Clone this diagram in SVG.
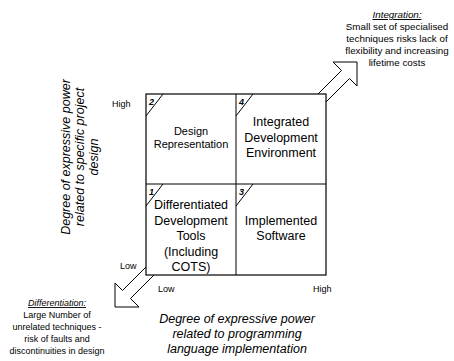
<svg xmlns="http://www.w3.org/2000/svg" width="454" height="361" viewBox="0 0 454 361">
<style>
text{font-family:"Liberation Sans",Arial,sans-serif;fill:#000}
.s{font-size:9px}
.t{font-size:9.8px}
.c{font-size:12.5px;text-anchor:middle}
.cs{font-size:11px;text-anchor:middle}
.ax{font-size:12.5px;font-style:italic;text-anchor:middle}
.n{font-size:9px;font-weight:bold;font-style:italic}
.m{text-anchor:middle}
.u{font-style:italic;text-decoration:underline}
.ln{stroke:#000;stroke-width:1;fill:none}
.ar{stroke:#000;stroke-width:1;fill:#fff}
</style>
<rect width="454" height="361" fill="#fff"/>
<g id="connectors">
<polyline class="ar" points="318,94 341.5,70.5 333,62 357,62 357,86 349.5,78.5 326,102"/>
<polyline class="ar" points="154,275 130.5,298.5 139,307 115,307 115,283 122.5,290.5 146,267"/>
</g>
<g id="grid">
<rect x="146" y="94" width="180" height="181" fill="none" stroke="#000" stroke-width="1.2"/>
<line class="ln" x1="236" y1="94" x2="236" y2="275" stroke-width="1.2"/>
<line class="ln" x1="146" y1="184" x2="326" y2="184" stroke-width="1.2"/>
</g>
<g id="cell2">
<line class="ln" x1="146" y1="116" x2="163" y2="94"/>
<text class="n" x="149" y="105">2</text>
<text class="cs" x="191" y="135">Design</text>
<text class="cs" x="191" y="148">Representation</text>
</g>
<g id="cell4">
<line class="ln" x1="236" y1="116" x2="253" y2="94"/>
<text class="n" x="239" y="105">4</text>
<text class="c" x="281" y="126">Integrated</text>
<text class="c" x="281" y="141.5">Development</text>
<text class="c" x="281" y="157">Environment</text>
</g>
<g id="cell1">
<line class="ln" x1="146" y1="206" x2="163" y2="184"/>
<text class="n" x="149" y="195">1</text>
<text class="c" x="191" y="209">Differentiated</text>
<text class="c" x="191" y="224.5">Development</text>
<text class="c" x="191" y="240">Tools</text>
<text class="c" x="191" y="255.5">(Including</text>
<text class="c" x="191" y="271">COTS)</text>
</g>
<g id="cell3">
<line class="ln" x1="236" y1="206" x2="253" y2="184"/>
<text class="n" x="239" y="195">3</text>
<text class="c" x="281" y="225">Implemented</text>
<text class="c" x="281" y="240">Software</text>
</g>
<g id="axis-labels">
<text class="s" x="112" y="107">High</text>
<text class="s" x="120" y="269">Low</text>
<text class="s" x="158" y="292">Low</text>
<text class="s" x="313" y="292">High</text>
<text class="ax" x="237" y="323">Degree of expressive power</text>
<text class="ax" x="237" y="338">related to programming</text>
<text class="ax" x="237" y="353">language implementation</text>
<g transform="translate(80,157) rotate(-90)">
<text class="ax" x="0" y="-10">Degree of expressive power</text>
<text class="ax" x="0" y="4">related to specific project</text>
<text class="ax" x="0" y="18">design</text>
</g>
</g>
<g id="integration-note">
<text class="t m u" x="397" y="18">Integration:</text>
<text class="t m" x="397" y="30">Small set of specialised</text>
<text class="t m" x="397" y="42">techniques risks lack of</text>
<text class="t m" x="397" y="54">flexibility and increasing</text>
<text class="t m" x="397" y="66">lifetime costs</text>
</g>
<g id="differentiation-note">
<text class="s m u" x="57" y="306">Differentiation:</text>
<text class="s m" x="57" y="318">Large Number of</text>
<text class="s m" x="57" y="330">unrelated techniques -</text>
<text class="s m" x="57" y="342">risk of faults and</text>
<text class="s m" x="57" y="354">discontinuities in design</text>
</g>
</svg>
